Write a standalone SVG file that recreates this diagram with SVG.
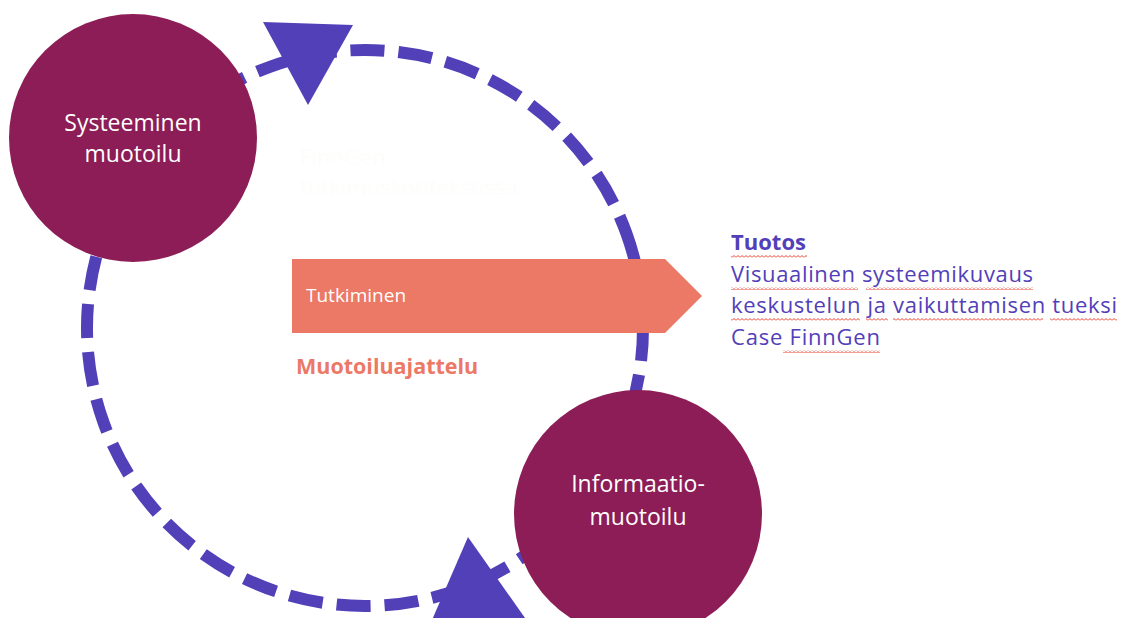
<svg xmlns="http://www.w3.org/2000/svg" width="1135" height="618" viewBox="0 0 1135 618">
<defs>
<style>
.node{fill:#8c1d56}
.ntext{fill:#ffffff;font-family:"Open Sans","Liberation Sans",sans-serif;font-size:23px;text-anchor:middle}
.cycle{fill:none;stroke:#5240b8;stroke-width:12;stroke-dasharray:34 14}
.head{fill:#5240b8}
.out{fill:#5240b8;font-family:"Open Sans","Liberation Sans",sans-serif;font-size:22px}
.squig{fill:url(#wave)}
</style>
<pattern id="wave" width="4" height="3" patternUnits="userSpaceOnUse">
<polyline points="0,2.5 2,0.5 4,2.5" fill="none" stroke="#e53d30" stroke-width="1"/>
</pattern>
</defs>
<rect width="1135" height="618" fill="#ffffff"/>
<g id="connectors">
<circle class="cycle" cx="365" cy="328" r="278" transform="rotate(-20 365 328)"/>
<polygon class="head" points="263,22 353,25 308,105"/>
<polygon class="head" points="468,537 432,620 525,618"/>
</g>
<g id="faint" fill="#fdfefb" font-family="Open Sans, Liberation Sans, sans-serif" font-size="22">
<text x="300" y="165">FinnGen</text>
<text x="300" y="195">tutkimuskontekstissa</text>
</g>
<g id="tutkiminen">
<polygon points="292,259 665,259 702,296 665,333 292,333" fill="#ec7866"/>
<text x="306" y="302" fill="#ffffff" font-family="Open Sans, Liberation Sans, sans-serif" font-size="19">Tutkiminen</text>
</g>
<g id="muotoiluajattelu">
<text x="296" y="374" fill="#ec7866" font-family="Open Sans, Liberation Sans, sans-serif" font-size="21.5" font-weight="bold">Muotoiluajattelu</text>
</g>
<g id="systeeminen">
<circle class="node" cx="133" cy="138" r="124"/>
<text class="ntext" x="133" y="131">Systeeminen</text>
<text class="ntext" x="133" y="162">muotoilu</text>
</g>
<g id="informaatio">
<circle class="node" cx="638" cy="514" r="124"/>
<text class="ntext" x="638" y="492">Informaatio-</text>
<text class="ntext" x="638" y="525">muotoilu</text>
</g>
<g id="tuotos">
<text class="out" x="731" y="250" font-weight="bold" textLength="75" lengthAdjust="spacingAndGlyphs">Tuotos</text>
<text class="out" x="731" y="282" textLength="302" lengthAdjust="spacing">Visuaalinen systeemikuvaus</text>
<text class="out" x="731" y="313" textLength="386" lengthAdjust="spacing">keskustelun ja vaikuttamisen tueksi</text>
<text class="out" x="731" y="345" textLength="149" lengthAdjust="spacing">Case FinnGen</text>
<rect class="squig" x="731" y="255" width="76" height="3"/>
<rect class="squig" x="731" y="287" width="127" height="3"/>
<rect class="squig" x="866" y="287" width="167" height="3"/>
<rect class="squig" x="731" y="318" width="129" height="3"/>
<rect class="squig" x="866" y="318" width="22" height="3"/>
<rect class="squig" x="893" y="318" width="150" height="3"/>
<rect class="squig" x="1050" y="318" width="67" height="3"/>
<rect class="squig" x="783" y="350" width="97" height="3"/>
</g>
</svg>
